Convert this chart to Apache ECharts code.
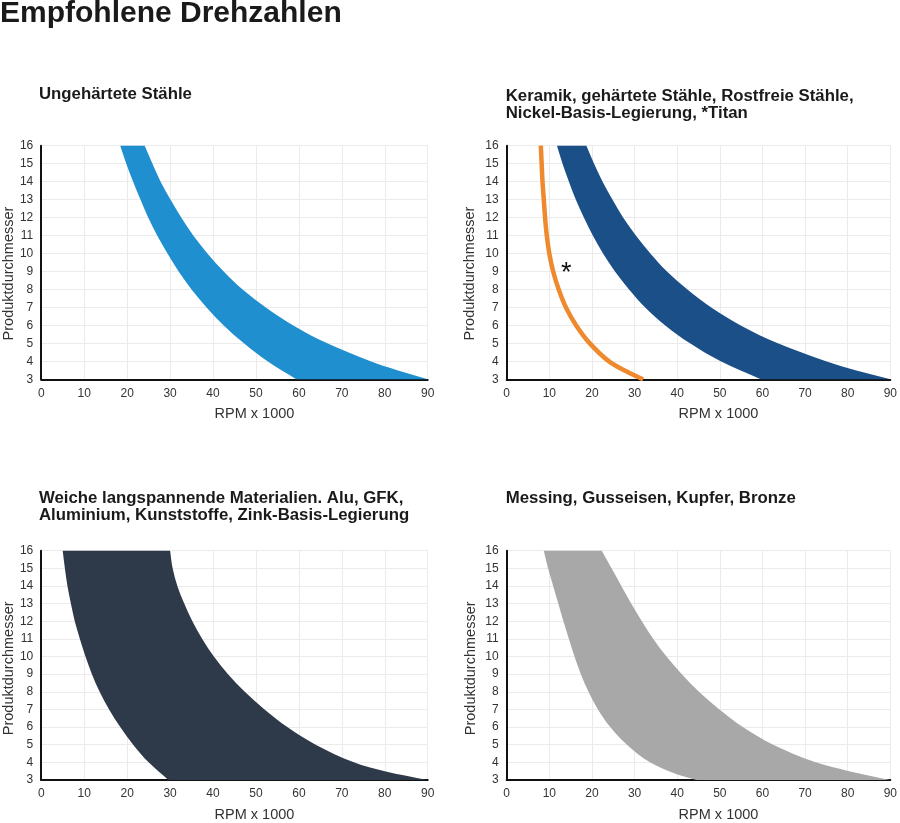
<!DOCTYPE html>
<html>
<head>
<meta charset="utf-8">
<title>Empfohlene Drehzahlen</title>
<script src="https://cdn.jsdelivr.net/npm/echarts@6/dist/echarts.min.js"></script>
<style>
    html, body { margin: 0; padding: 0; background: #fff; }
    #chart { width: 900px; height: 823px; }
</style>
</head>
<body>
<div id="chart"></div>
<script>
    "use strict";
    var rpmAxis = { min: 0, max: 90, interval: 10 };
    var diaAxis = { min: 3, max: 16, interval: 1 };

    var diameters = [16, 15, 14, 13, 12, 11, 10, 9, 8, 7, 6, 5, 4, 3];
    var edgeDia   = [16, 15, 14, 13, 12, 11, 10, 9, 8, 7, 6, 5, 4, 3.5, 3];

    // Ungehärtete Stähle
    var steelLow  = [18.4, 19.8, 21.4, 23.1, 24.9, 27.0, 29.4, 32.0, 35.0, 38.5, 42.5, 47.2, 52.7, 59.4];
    var steelHigh = [24.1, 25.9, 27.8, 30.1, 32.6, 35.4, 38.7, 42.5, 46.9, 52.3, 58.7, 66.6, 76.7, 82.9, 90.0];

    // Keramik, gehärtete Stähle, Rostfreie Stähle, Nickel-Basis-Legierung
    var hardLow  = [11.8, 13.1, 14.6, 16.2, 18.1, 20.2, 22.6, 25.4, 28.7, 32.5, 37.2, 43.0, 50.2, 59.6];
    var hardHigh = [18.7, 20.5, 22.5, 24.8, 27.3, 30.3, 33.7, 37.6, 42.4, 48.0, 54.9, 63.6, 74.9, 81.8, 90.0];

    // *Titan
    var titanDia = [16, 15, 14, 13, 12, 11, 10, 9, 8, 7, 6, 5, 4, 3.35, 3];
    var titanRpm = [8.0, 8.2, 8.4, 8.7, 9.0, 9.4, 10.0, 10.9, 12.2, 13.9, 16.3, 19.5, 24.0, 28.8, 32.0];
    var titanMark = [14, 9.2];

    // Weiche langspannende Materialien
    var softLow  = [5.0, 5.5, 6.1, 6.9, 7.8, 9.0, 10.3, 11.8, 13.6, 15.8, 18.4, 21.4, 25.0, 29.6];
    var softHigh = [30.0, 30.6, 31.7, 33.3, 35.2, 37.5, 40.2, 43.5, 47.4, 52.0, 57.3, 63.9, 72.8, 80.0, 90.0];

    // Messing, Gusseisen, Kupfer, Bronze
    var brassLowDia = [16, 15, 14, 13, 12, 11, 10, 9, 8, 7, 6, 5, 4, 3.35, 3];
    var brassLow    = [8.7, 9.7, 10.9, 12.1, 13.3, 14.6, 15.9, 17.4, 19.2, 21.4, 24.3, 28.2, 33.6, 39.6, 44.5];
    var brassHigh   = [22.3, 24.6, 26.9, 29.2, 31.7, 34.4, 37.5, 41.1, 45.1, 49.9, 55.4, 62.5, 72.5, 80.3, 90.0];

    var titles = [
        "Ungehärtete Stähle",
        "Keramik, gehärtete Stähle, Rostfreie Stähle,\nNickel-Basis-Legierung, *Titan",
        "Weiche langspannende Materialien. Alu, GFK,\nAluminium, Kunststoffe, Zink-Basis-Legierung",
        "Messing, Gusseisen, Kupfer, Bronze"
    ];

    var font = "Liberation Sans, Arial, Helvetica, sans-serif";

    var grids = [
        { left: 40, top: 145.7, width: 387.7, height: 233.6 },
        { left: 506.7, top: 145.7, width: 387.6, height: 233.6 },
        { left: 40, top: 550.7, width: 387.7, height: 233.6 },
        { left: 506.7, top: 550.7, width: 387.6, height: 233.6 }
    ];
    var titleTops = [86, 88, 490, 490];
    var yNameGaps = [25, 29, 25, 28];
    var yNameShift = [22, 22, 6, 6];

    function zip(xs, ys) {
        return xs.map(function (x, i) { return [x, ys[i]]; });
    }

    function num(v) {
        return v.toFixed(2);
    }

    // hermite through the points with chord-length tangents, written as cubic beziers
    function curve(pts) {
        var n = pts.length, t = [0], d = "";
        for (var i = 1; i < n; i++) {
            t.push(t[i - 1] + Math.sqrt(Math.pow(pts[i][0] - pts[i - 1][0], 2) + Math.pow(pts[i][1] - pts[i - 1][1], 2)));
        }
        function tangent(i) {
            var a = Math.max(i - 1, 0), b = Math.min(i + 1, n - 1), dt = t[b] - t[a];
            return [(pts[b][0] - pts[a][0]) / dt, (pts[b][1] - pts[a][1]) / dt];
        }
        for (var j = 0; j < n - 1; j++) {
            var step = (t[j + 1] - t[j]) / 3, m1 = tangent(j), m2 = tangent(j + 1);
            d += " C " + num(pts[j][0] + m1[0] * step) + " " + num(pts[j][1] + m1[1] * step) +
                " " + num(pts[j + 1][0] - m2[0] * step) + " " + num(pts[j + 1][1] - m2[1] * step) +
                " " + num(pts[j + 1][0]) + " " + num(pts[j + 1][1]);
        }
        return d;
    }

    function band(index, low, high, color) {
        return {
            type: "custom",
            xAxisIndex: index,
            yAxisIndex: index,
            data: [[0, 3]],
            silent: true,
            renderItem: function (params, api) {
                var a = low.map(function (p) { return api.coord(p); });
                var b = high.slice().reverse().map(function (p) { return api.coord(p); });
                var d = "M " + num(a[0][0]) + " " + num(a[0][1]) + curve(a) +
                    " L " + num(b[0][0]) + " " + num(b[0][1]) + curve(b) + " Z";
                return {
                    type: "path",
                    shape: { pathData: d },
                    style: { fill: color }
                };
            }
        };
    }

    function stroke(index, pts, color, width) {
        return {
            type: "custom",
            xAxisIndex: index,
            yAxisIndex: index,
            data: [[0, 3]],
            silent: true,
            renderItem: function (params, api) {
                var a = pts.map(function (p) { return api.coord(p); });
                return {
                    type: "path",
                    shape: { pathData: "M " + num(a[0][0]) + " " + num(a[0][1]) + curve(a) },
                    style: { fill: null, stroke: color, lineWidth: width }
                };
            }
        };
    }

    var option = {
        backgroundColor: "#fff",
        animation: false,
        title: [{
            text: "Empfohlene Drehzahlen",
            left: 0, top: -1, padding: 0,
            textStyle: { fontFamily: font, fontSize: 30, fontWeight: "bold", color: "#1a1a1a" }
        }].concat(titles.map(function (t, i) {
            return {
                text: t,
                left: grids[i].left - 1, top: titleTops[i], padding: 0,
                textStyle: { fontFamily: font, fontSize: 16.8, fontWeight: "bold", color: "#1a1a1a", lineHeight: 17 }
            };
        })),
        grid: grids,
        xAxis: grids.map(function (g, i) {
            return {
                type: "value",
                gridIndex: i,
                min: rpmAxis.min, max: rpmAxis.max, interval: rpmAxis.interval,
                name: "RPM x 1000",
                nameLocation: "middle",
                nameGap: 27,
                nameTextStyle: { fontFamily: font, fontSize: 14.5, color: "#333", padding: [0, 0, 0, 40] },
                axisLine: { show: true, onZero: false, lineStyle: { color: "#111", width: 2 } },
                axisTick: { show: false },
                axisLabel: { margin: 8, fontFamily: font, fontSize: 12, color: "#333" },
                splitLine: { show: true, lineStyle: { color: "#ebebeb", width: 1 } }
            };
        }),
        yAxis: grids.map(function (g, i) {
            return {
                type: "value",
                gridIndex: i,
                min: diaAxis.min, max: diaAxis.max, interval: diaAxis.interval,
                name: "Produktdurchmesser",
                nameLocation: "middle",
                nameGap: yNameGaps[i],
                nameTextStyle: { fontFamily: font, fontSize: 14.5, color: "#333", padding: [0, yNameShift[i], 0, 0] },
                axisLine: { show: true, onZero: false, lineStyle: { color: "#111", width: 2 } },
                axisTick: { show: false },
                axisLabel: { margin: 8, fontFamily: font, fontSize: 12, color: "#333" },
                splitLine: { show: true, lineStyle: { color: "#ebebeb", width: 1 } }
            };
        }),
        series: [
            band(0, zip(steelLow, diameters), zip(steelHigh, edgeDia), "#208fd0"),
            band(1, zip(hardLow, diameters), zip(hardHigh, edgeDia), "#1b4f88"),
            stroke(1, zip(titanRpm, titanDia), "#ee8a2d", 4.5),
            {
                type: "custom",
                xAxisIndex: 1,
                yAxisIndex: 1,
                data: [titanMark],
                silent: true,
                renderItem: function (params, api) {
                    var p = api.coord([api.value(0), api.value(1)]);
                    return {
                        type: "text",
                        x: p[0], y: p[1] + 6,
                        style: { text: "*", fontFamily: font, fontSize: 27, fill: "#111", align: "center", verticalAlign: "middle" }
                    };
                }
            },
            band(2, zip(softLow, diameters), zip(softHigh, edgeDia), "#2e3a49"),
            band(3, zip(brassLow, brassLowDia), zip(brassHigh, edgeDia), "#a8a8a8")
        ]
    };

    var chart = echarts.init(document.getElementById("chart"), null, { renderer: "canvas" });
    chart.setOption(option);
</script>
</body>
</html>
